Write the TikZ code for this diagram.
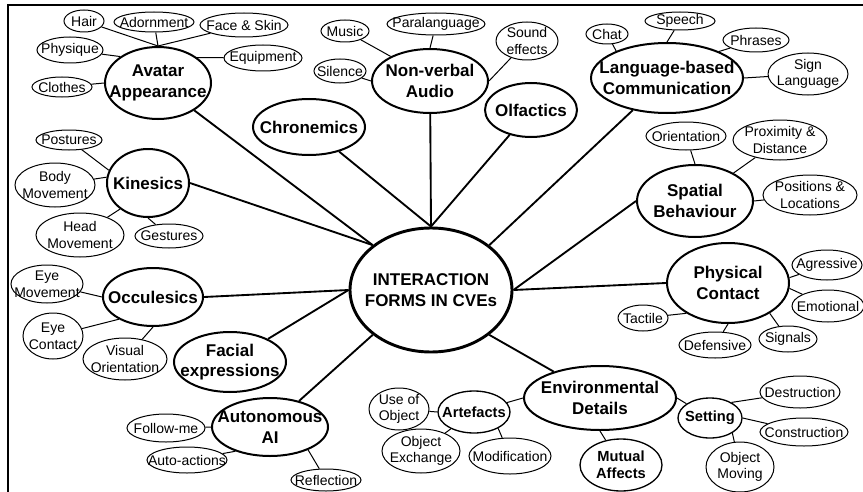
\documentclass[tikz,border=0pt]{standalone}
\usepackage{fontspec}
\setmainfont{Liberation Sans}
\usetikzlibrary{shapes,positioning}

\begin{document}
\begin{tikzpicture}[x=0.75pt,y=-0.75pt,
  sz/.style 2 args={minimum width=#1*1.5pt, minimum height=#2*1.5pt},
  hubtxt/.style={align=center, inner sep=0pt, font=\fontsize{12.75}{15.5}\selectfont\bfseries},
  topictxt/.style={align=center, inner sep=0pt, font=\fontsize{12.75}{15.5}\selectfont\bfseries},
  subtxt/.style={align=center, inner sep=0pt, font=\fontsize{11}{13}\selectfont\bfseries},
  leaftxt/.style={align=center, inner sep=0pt, font=\fontsize{10.5}{12.5}\selectfont},
  hub/.style={ellipse, draw, line width=2.2pt, inner sep=0pt, label={[hubtxt]center:#1}},
  topic/.style={ellipse, draw, line width=1.5pt, inner sep=0pt, label={[topictxt]center:#1}},
  subtopic/.style={ellipse, draw, line width=1pt, inner sep=0pt, label={[subtxt]center:#1}},
  leaf/.style={ellipse, draw, line width=0.75pt, inner sep=0pt, label={[leaftxt]center:#1}},
  link/.style={line width=1.4pt},
  twig/.style={line width=0.75pt}]
\useasboundingbox (0,0) rectangle (863,492);

% frame
\draw[line width=1.8pt] (8,492) -- (8,5) -- (863,5);

% centre
\node[hub={INTERACTION\\FORMS IN CVEs}, sz={81}{62}] (ctr) at (431,290) {};

% main forms
\node[topic={Avatar\\Appearance}, sz={53}{36}] (avatar) at (158,83) {};
\node[topic={Chronemics}, sz={56}{28}] (chron) at (309,127) {};
\node[topic={Non-verbal\\Audio}, sz={58}{32}] (nva) at (430,81) {};
\node[topic={Olfactics}, sz={46}{27}] (olf) at (531,110) {};
\node[topic={Language-based\\Communication}, sz={76}{35}] (lang) at (667,78) {};
\node[topic={Spatial\\Behaviour}, sz={58}{36}] (spat) at (695,201) {};
\node[topic={Physical\\Contact}, sz={61}{40}] (phys) at (728,283) {};
\node[topic={Kinesics}, sz={41}{34}] (kin) at (148,183) {};
\node[topic={Occulesics}, sz={50}{29}] (occ) at (153,297) {};
\node[topic={Facial\\expressions}, sz={56}{30}] (facial) at (230,362) {};
\node[topic={Autonomous\\AI}, sz={58}{29}] (aai) at (270,427) {};
\node[topic={Environmental\\Details}, sz={76}{32}] (env) at (600,398) {};

\draw[link] (avatar) -- (ctr.north west);
\draw[link] (kin.east) -- (ctr.north west);
\draw[link] (chron) -- (ctr.north);
\draw[link] (nva) -- (ctr.north);
\draw[link] (olf) -- (ctr.north);
\draw[link] (lang) -- (ctr.north east);
\draw[link] (spat.west) -- (ctr.east);
\draw[link] (phys.west) -- (ctr.east);
\draw[link] (occ.east) -- (ctr.west);
\draw[link] (facial) -- (ctr.west);
\draw[link] (aai) -- (ctr.south west);
\draw[link] (env) -- (ctr.south east);

% Avatar Appearance
\node[leaf={Hair}, sz={20}{11}] (hair) at (84,21) {};
\node[leaf={Adornment}, sz={40}{10}] (adorn) at (154,22) {};
\node[leaf={Face \& Skin}, sz={44}{12}] (face) at (244,25) {};
\node[leaf={Physique}, sz={33}{13}] (physq) at (70,50) {};
\node[leaf={Equipment}, sz={39}{13}] (equip) at (263,58) {};
\node[leaf={Clothes}, sz={30}{10}] (clothes) at (62,87) {};
\draw[twig] (hair) -- (avatar.north);
\draw[twig] (adorn) -- (avatar.north);
\draw[twig] (face) -- (avatar.north);
\draw[twig] (physq) -- (avatar.145);
\draw[twig] (equip) -- (avatar.33);
\draw[twig] (clothes) -- (avatar.west);

% Kinesics
\node[leaf={Postures}, sz={33}{10}] (post) at (69,140) {};
\node[leaf={Body\\Movement}, sz={40}{22}] (body) at (55,185) {};
\node[leaf={Head\\Movement}, sz={44}{22}] (head) at (80,235) {};
\node[leaf={Gestures}, sz={34}{12}] (gest) at (169,236) {};
\draw[twig] (post) -- (kin.162);
\draw[twig] (body) -- (kin.172);
\draw[twig] (head) -- (kin.223);
\draw[twig] (gest) -- (kin.south);

% Occulesics
\node[leaf={Eye\\Movement}, sz={36}{19}] (eyemv) at (47,284) {};
\node[leaf={Eye\\Contact}, sz={30}{23}] (eyect) at (53,336) {};
\node[leaf={Visual\\Orientation}, sz={42}{21}] (visor) at (125,359) {};
\draw[twig] (eyemv) -- (occ.west);
\draw[twig] (eyect) -- (occ.213);
\draw[twig] (visor) -- (occ.south);

% Autonomous AI
\node[leaf={Follow-me}, sz={39}{14}] (follow) at (166,428) {};
\node[leaf={Auto-actions}, sz={40}{13}] (autoact) at (187,460) {};
\node[leaf={Reflection}, sz={35}{11}] (refl) at (326,480) {};
\draw[twig] (follow) -- (aai.west);
\draw[twig] (autoact) -- (aai.215);
\draw[twig] (refl) -- (aai.-31);

% Non-verbal Audio
\node[leaf={Music}, sz={24}{11}] (music) at (345,31) {};
\node[leaf={Paralanguage}, sz={49}{11}] (para) at (436,24) {};
\node[leaf={Sound\\effects}, sz={31}{19}] (sound) at (527,41) {};
\node[leaf={Silence}, sz={26}{12}] (silence) at (340,71) {};
\draw[twig] (music) -- (nva.148);
\draw[twig] (para) -- (nva.north);
\draw[twig] (sound) -- (nva.east);
\draw[twig] (silence) -- (nva.west);

% Language-based Communication
\node[leaf={Chat}, sz={21}{10}] (chat) at (607,34) {};
\node[leaf={Speech}, sz={35}{9}] (speech) at (680,21) {};
\node[leaf={Phrases}, sz={33}{12}] (phrases) at (756,40) {};
\node[leaf={Sign\\Language}, sz={40}{21}] (sign) at (808,74) {};
\draw[twig] (chat) -- (lang.152);
\draw[twig] (speech) -- (lang.north);
\draw[twig] (phrases) -- (lang.27);
\draw[twig] (sign) -- (lang.east);

% Spatial Behaviour
\node[leaf={Orientation}, sz={40}{14}] (orient) at (686,136) {};
\node[leaf={Proximity \&\\Distance}, sz={47}{20}] (prox) at (780,140) {};
\node[leaf={Positions \&\\Locations}, sz={47}{20}] (posit) at (810,195) {};
\draw[twig] (orient) -- (spat.north);
\draw[twig] (prox) -- (spat.36);
\draw[twig] (posit) -- (spat.east);

% Physical Contact
\node[leaf={Agressive}, sz={35}{15}] (aggr) at (827,265) {};
\node[leaf={Emotional}, sz={36}{16}] (emot) at (828,306) {};
\node[leaf={Tactile}, sz={25}{13}] (tactile) at (643,318) {};
\node[leaf={Defensive}, sz={36}{13}] (defens) at (715,345) {};
\node[leaf={Signals}, sz={29}{13}] (signals) at (788,339) {};
\draw[twig] (aggr) -- (phys.5);
\draw[twig] (emot) -- (phys.-5);
\draw[twig] (tactile) -- (phys.216);
\draw[twig] (defens) -- (phys.south);
\draw[twig] (signals) -- (phys.-36);

% Environmental Details
\node[subtopic={Artefacts}, sz={36}{21}] (artf) at (474,412) {};
\node[subtopic={Setting}, sz={32}{20}] (sett) at (710,418) {};
\node[subtopic={Mutual\\Affects}, sz={41}{26}] (mutual) at (621,465) {};
\draw[twig] (artf) -- (env.west);
\draw[twig] (mutual) -- (env.south);
\draw[twig] (sett) -- (env.east);

\node[leaf={Use of\\Object}, sz={30}{21}] (useobj) at (399,409) {};
\node[leaf={Object\\Exchange}, sz={39}{22}] (objex) at (421,451) {};
\node[leaf={Modification}, sz={41}{18}] (modif) at (510,456) {};
\draw[twig] (useobj) -- (artf.west);
\draw[twig] (objex) -- (artf.216);
\draw[twig] (modif) -- (artf.-34);

\node[leaf={Destruction}, sz={40}{16}] (destr) at (800,392) {};
\node[leaf={Construction}, sz={44}{14}] (constr) at (804,432) {};
\node[leaf={Object\\Moving}, sz={34}{25}] (objmov) at (740,467) {};
\draw[twig] (destr) -- (sett.36);
\draw[twig] (constr) -- (sett.east);
\draw[twig] (objmov) -- (sett.-34);
\end{tikzpicture}
\end{document}
